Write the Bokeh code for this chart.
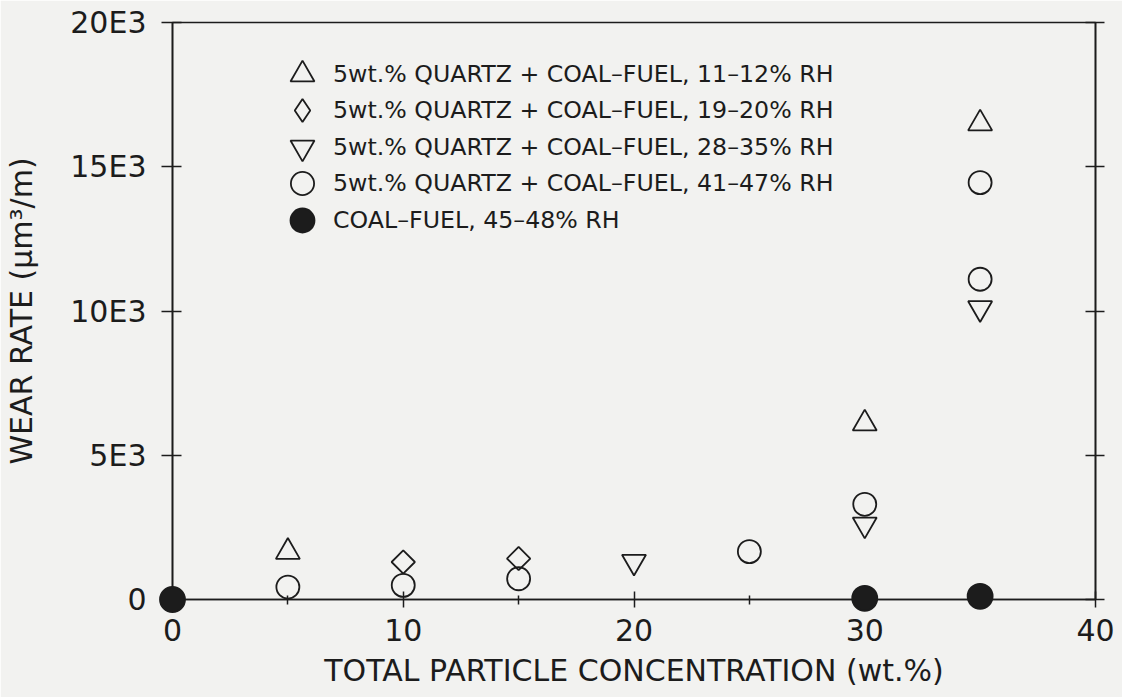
import math
from bokeh.plotting import figure
from bokeh.models import LinearAxis, FixedTicker, Legend, LegendItem, Range1d
from bokeh.embed import file_html
from bokeh.resources import INLINE

# ---------------- data ----------------
conc_rh_11_12 = [5, 30, 35]
wear_rh_11_12 = [1650, 6100, 16500]

conc_rh_19_20 = [10, 15]
wear_rh_19_20 = [1300, 1420]

conc_rh_28_35 = [20, 30, 35]
wear_rh_28_35 = [1310, 2600, 10100]

conc_rh_41_47 = [5, 10, 15, 25, 30, 35, 35]
wear_rh_41_47 = [430, 490, 720, 1660, 3300, 14450, 11100]

conc_coal = [0, 30, 35]
wear_coal = [0, 40, 110]

x_ticks = [0, 10, 20, 30, 40]
x_minor_ticks = [5, 15, 25, 35]
y_ticks = [0, 5000, 10000, 15000, 20000]
y_tick_labels = ["0", "5E3", "10E3", "15E3", "20E3"]

legend_labels = [
    "5wt.% QUARTZ + COAL–FUEL, 11–12% RH",
    "5wt.% QUARTZ + COAL–FUEL, 19–20% RH",
    "5wt.% QUARTZ + COAL–FUEL, 28–35% RH",
    "5wt.% QUARTZ + COAL–FUEL, 41–47% RH",
    "COAL–FUEL, 45–48% RH",
]

x_label = "TOTAL PARTICLE CONCENTRATION (wt.%)"
y_label = "WEAR RATE (μm³/m)"

# ---------------- styling ----------------
BG = "#f2f2f0"
INK = "#1c1c1c"
FONT = "DejaVu Sans"
LW = 1.8

p = figure(width=1122, height=697,
           x_range=Range1d(0, 40), y_range=Range1d(0, 20000),
           output_backend="svg", toolbar_location=None,
           min_border_left=172, min_border_right=27,
           min_border_top=22, min_border_bottom=98,
           background_fill_color=BG, border_fill_color=BG,
           outline_line_color=INK, outline_line_width=1.6)
p.grid.visible = False

# bottom axis
xa = p.xaxis[0]
xa.ticker = FixedTicker(ticks=x_ticks, minor_ticks=x_minor_ticks)
xa.major_tick_in = 8
xa.major_tick_out = 8
xa.minor_tick_in = 4
xa.minor_tick_out = 5
xa.axis_line_color = INK
xa.axis_line_width = 1.6
xa.major_tick_line_color = INK
xa.minor_tick_line_color = INK
xa.major_tick_line_width = 1.5
xa.minor_tick_line_width = 1.5
xa.major_label_text_font = FONT
xa.major_label_text_font_size = "30px"
xa.major_label_text_color = INK
xa.major_label_standoff = 11
xa.axis_label = x_label
xa.axis_label_text_font = FONT
xa.axis_label_text_font_size = "30px"
xa.axis_label_text_font_style = "normal"
xa.axis_label_text_color = INK
xa.axis_label_standoff = 9

# left axis
ya = p.yaxis[0]
ya.ticker = FixedTicker(ticks=y_ticks, minor_ticks=[])
ya.major_label_overrides = {t: l for t, l in zip(y_ticks, y_tick_labels)}
ya.major_tick_in = 9
ya.major_tick_out = 11
ya.axis_line_color = INK
ya.axis_line_width = 1.6
ya.major_tick_line_color = INK
ya.major_tick_line_width = 1.5
ya.major_label_text_font = FONT
ya.major_label_text_font_size = "30px"
ya.major_label_text_color = INK
ya.major_label_standoff = 15
ya.axis_label = y_label
ya.axis_label_text_font = FONT
ya.axis_label_text_font_size = "30px"
ya.axis_label_text_font_style = "normal"
ya.axis_label_text_color = INK
ya.axis_label_standoff = 28

# right axis (ticks only)
ra = LinearAxis(ticker=FixedTicker(ticks=y_ticks, minor_ticks=[]),
                major_label_overrides={t: "" for t in y_ticks},
                major_label_text_font_size="1px",
                major_label_standoff=0,
                major_tick_in=10, major_tick_out=9,
                major_tick_line_color=INK, major_tick_line_width=1.5,
                axis_line_color=INK, axis_line_width=1.6)
p.add_layout(ra, "right")

# ---------------- data marks ----------------
r1 = p.scatter(conc_rh_11_12, wear_rh_11_12, marker="triangle", size=24,
               fill_color=None, line_color=INK, line_width=LW, level="annotation")
r2 = p.scatter(conc_rh_19_20, wear_rh_19_20, marker="square", angle=math.pi / 4,
               size=16.5, fill_color=None, line_color=INK, line_width=LW, level="annotation")
r3 = p.scatter(conc_rh_28_35, wear_rh_28_35, marker="inverted_triangle", size=24,
               fill_color=None, line_color=INK, line_width=LW, level="annotation")
r4 = p.scatter(conc_rh_41_47, wear_rh_41_47, marker="circle", size=23,
               fill_color=None, line_color=INK, line_width=LW, level="annotation")
r5 = p.scatter(conc_coal, wear_coal, marker="circle", size=25,
               fill_color=INK, line_color=INK, line_width=LW, level="annotation")
# legend swatch for the diamond series (legend swatches are drawn unrotated)
r2_key = p.scatter(conc_rh_19_20, wear_rh_19_20, marker="diamond", size=23,
                   fill_color=None, line_color=INK, line_width=LW, visible=False)

# ---------------- legend (one entry per box, stacked) ----------------
renderers = [r1, r2_key, r3, r4, r5]
glyph_heights = [60, 58, 60, 58, 62]
row_centers_from_top = [52, 88, 125, 161, 198]   # px below frame top
frame_h = 577
for r, lbl, gh, c in zip(renderers, legend_labels, glyph_heights, row_centers_from_top):
    leg = Legend(items=[LegendItem(label=lbl, renderers=[r])],
                 location=(100, int(frame_h - c - gh // 2)),
                 glyph_width=60, glyph_height=gh,
                 label_standoff=1, padding=0, margin=0, spacing=0,
                 border_line_color=None, background_fill_alpha=0,
                 inactive_fill_alpha=0,
                 label_text_font=FONT, label_text_font_size="23.7px",
                 label_text_color=INK)
    p.add_layout(leg)

html = file_html(p, INLINE)
html = html.replace("<body>", '<body style="background-color:%s;">' % BG, 1)
open("out.html", "w").write(html)
